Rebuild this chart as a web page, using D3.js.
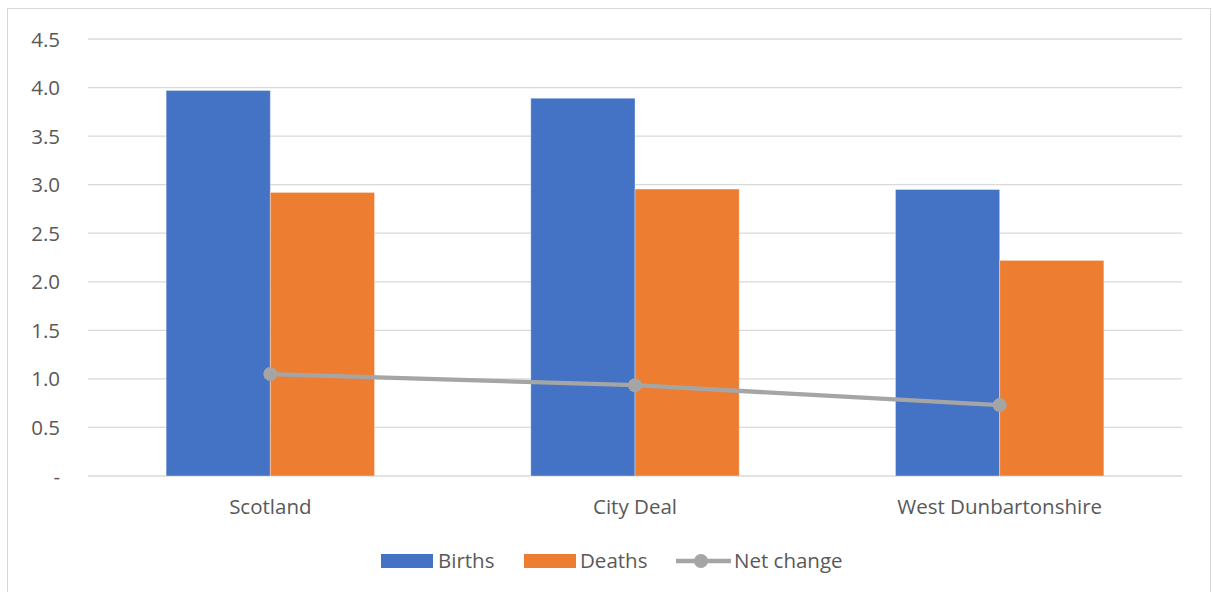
<!DOCTYPE html>
<html>
<head>
<meta charset="utf-8">
<script src="https://cdn.jsdelivr.net/npm/d3@7"></script>
<style>
  body { margin: 0; background: #fff; }
  svg text { font-family: "Open Sans", "Noto Sans", sans-serif; fill: #595959; }
</style>
</head>
<body>
<svg id="chart" width="1213" height="592"></svg>
<script>
const categories = ['Scotland', 'City Deal', 'West Dunbartonshire'];
const births = [3.97, 3.89, 2.95];
const deaths = [2.92, 2.955, 2.22];
const netChange = [1.05, 0.935, 0.73];
const yTicks = [0, 0.5, 1.0, 1.5, 2.0, 2.5, 3.0, 3.5, 4.0, 4.5];

const svg = d3.select('#chart');
const plot = { left: 88, right: 1182, top: 39, bottom: 476 };
const fs = 20.5;

// frame
svg.append('rect')
    .attr('x', 7.5).attr('y', 8.5)
    .attr('width', 1203).attr('height', 600)
    .attr('fill', '#fff').attr('stroke', '#d9d9d9');

const x = d3.scaleBand()
    .domain(categories)
    .range([plot.left, plot.right])
    .paddingInner(0)
    .paddingOuter(0);

const y = d3.scaleLinear()
    .domain([0, 4.5])
    .range([plot.bottom, plot.top]);

// gridlines
svg.append('g')
    .selectAll('line')
    .data(yTicks)
    .join('line')
    .attr('x1', plot.left).attr('x2', plot.right)
    .attr('y1', d => y(d)).attr('y2', d => y(d))
    .attr('stroke', '#d9d9d9').attr('stroke-width', 1.3);

// y labels
svg.append('g')
    .selectAll('text')
    .data(yTicks)
    .join('text')
    .attr('x', 60)
    .attr('y', d => y(d) + 7.5)
    .attr('text-anchor', 'end')
    .attr('font-size', fs)
    .text(d => d === 0 ? '-' : d3.format('.1f')(d));

// bars
const bw = x.bandwidth();
const barW = bw / 3.5;
const series = [
    { name: 'Births', values: births, color: '#4472c4', offset: -barW },
    { name: 'Deaths', values: deaths, color: '#ed7d31', offset: 0 }
];

series.forEach(s => {
    svg.append('g')
        .selectAll('rect')
        .data(categories)
        .join('rect')
        .attr('x', d => x(d) + bw / 2 + s.offset)
        .attr('y', (d, i) => y(s.values[i]))
        .attr('width', barW)
        .attr('height', (d, i) => y(0) - y(s.values[i]))
        .attr('fill', s.color)
        .attr('stroke', 'rgba(255,255,255,0.35)')
        .attr('stroke-width', 1);
});

// net change line
const line = d3.line()
    .x((d, i) => x(categories[i]) + bw / 2)
    .y(d => y(d));

svg.append('path')
    .datum(netChange)
    .attr('d', line)
    .attr('fill', 'none')
    .attr('stroke', '#a5a5a5')
    .attr('stroke-width', 4.3);

svg.append('g')
    .selectAll('circle')
    .data(netChange)
    .join('circle')
    .attr('cx', (d, i) => x(categories[i]) + bw / 2)
    .attr('cy', d => y(d))
    .attr('r', 7)
    .attr('fill', '#a5a5a5');

// x labels
svg.append('g')
    .selectAll('text')
    .data(categories)
    .join('text')
    .attr('x', d => x(d) + bw / 2)
    .attr('y', 514)
    .attr('text-anchor', 'middle')
    .attr('font-size', fs)
    .text(d => d);

// legend
const legend = svg.append('g');
legend.append('rect').attr('x', 381).attr('y', 554).attr('width', 52).attr('height', 14).attr('fill', '#4472c4');
legend.append('text').attr('x', 438).attr('y', 568).attr('font-size', fs).text('Births');
legend.append('rect').attr('x', 524).attr('y', 554).attr('width', 52).attr('height', 14).attr('fill', '#ed7d31');
legend.append('text').attr('x', 580).attr('y', 568).attr('font-size', fs).text('Deaths');
legend.append('line').attr('x1', 676).attr('x2', 731).attr('y1', 561).attr('y2', 561)
    .attr('stroke', '#a5a5a5').attr('stroke-width', 4.3);
legend.append('circle').attr('cx', 701).attr('cy', 561).attr('r', 7).attr('fill', '#a5a5a5');
legend.append('text').attr('x', 734).attr('y', 568).attr('font-size', fs).text('Net change');
</script>
</body>
</html>
